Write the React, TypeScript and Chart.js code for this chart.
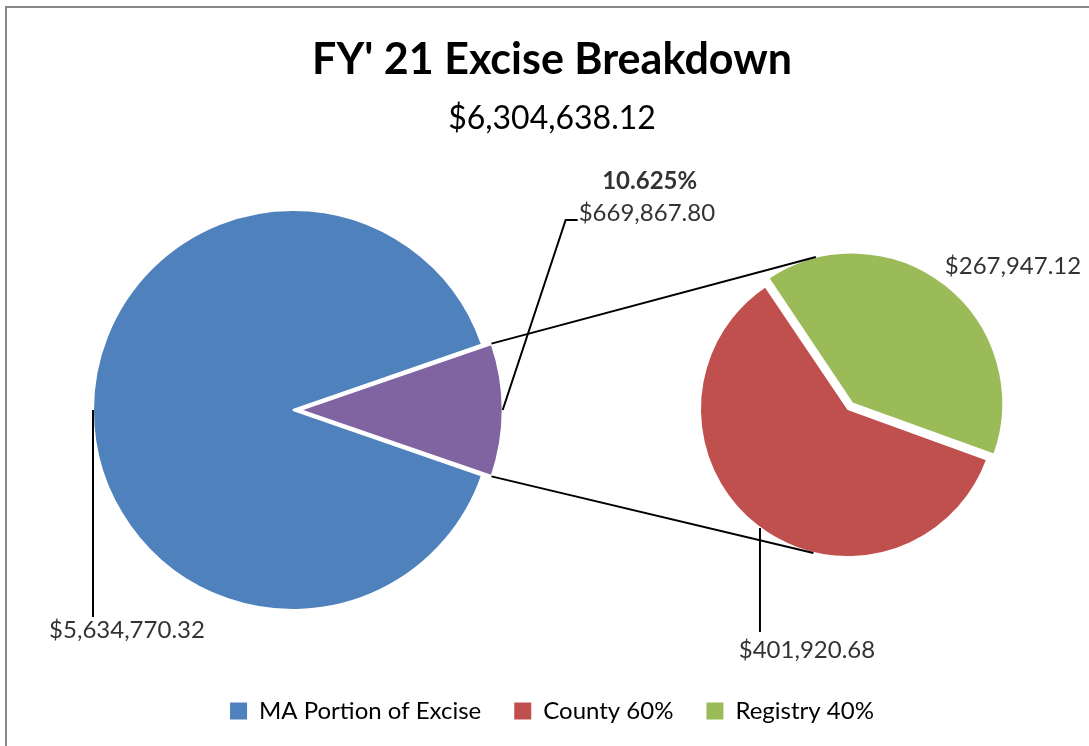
import React, { useEffect, useRef } from 'react';
import { Chart, registerables } from 'chart.js';

Chart.register(...registerables);

// ---------- data ----------
const chartTitle = "FY' 21 Excise Breakdown";
const mainLabels = ['MA Portion of Excise', 'Other'];
const mainValues = [5634770.32, 669867.8];
const subLabels = ['County 60%', 'Registry 40%'];
const subValues = [401920.68, 267947.12];
const legendLabels = ['MA Portion of Excise', 'County 60%', 'Registry 40%'];
const mainColors = ['#4F81BD', '#8064A2'];
const subColors = ['#C0504D', '#9BBB59'];
const legendColors = ['#4F81BD', '#C0504D', '#9BBB59'];

const W = 1089;
const H = 746;
const FONT = "Lato, 'Open Sans', 'DejaVu Sans', sans-serif";
const LABEL_COLOR = '#333333';

const fmtMoney = (v: number) =>
  '$' + v.toLocaleString('en-US', { minimumFractionDigits: 2, maximumFractionDigits: 2 });

const total = mainValues.reduce((a, b) => a + b, 0);
const otherShare = mainValues[1] / total;

// point on (possibly offset) arc at canvas angle
function arcPoint(arc: any, ang: number, extra = 0) {
  const off = (arc.options.offset || 0) / 4;
  const mid = (arc.startAngle + arc.endAngle) / 2;
  const circ = arc.endAngle - arc.startAngle;
  const r = arc.outerRadius + off * (1 - Math.sin(Math.min(Math.PI, circ))) + extra;
  return {
    x: arc.x + Math.cos(mid) * off + Math.cos(ang) * r,
    y: arc.y + Math.sin(mid) * off + Math.sin(ang) * r,
  };
}

function line(ctx: CanvasRenderingContext2D, pts: number[][]) {
  ctx.beginPath();
  ctx.moveTo(pts[0][0], pts[0][1]);
  for (let i = 1; i < pts.length; i++) ctx.lineTo(pts[i][0], pts[i][1]);
  ctx.stroke();
}

const deg = (d: number) => (d * Math.PI) / 180;

export default function App() {
  const refC = useRef<HTMLCanvasElement>(null);
  const refA = useRef<HTMLCanvasElement>(null);
  const refB = useRef<HTMLCanvasElement>(null);

  useEffect(() => {
    // ---- chart C: frame, title, subtitle, legend ----
    const framePlugin = {
      id: 'frame',
      beforeDraw(chart: any) {
        const ctx = chart.ctx;
        ctx.save();
        ctx.fillStyle = '#ffffff';
        ctx.fillRect(0, 0, W, H);
        ctx.strokeStyle = '#878787';
        ctx.lineWidth = 2;
        ctx.strokeRect(6, 7, 1200, 800);
        ctx.restore();
      },
    };
    const cC = new Chart(refC.current!, {
      type: 'pie',
      data: { labels: legendLabels, datasets: [{ data: [] }] },
      options: {
        responsive: false,
        animation: false,
        events: [],
        layout: { padding: { left: 15, right: 0, top: 0, bottom: 13 } },
        plugins: {
          tooltip: { enabled: false },
          title: {
            display: true,
            text: chartTitle,
            color: '#000000',
            font: { family: FONT, size: 43, weight: 'bold' },
            padding: { top: 34, bottom: 0 },
          },
          subtitle: {
            display: true,
            text: fmtMoney(total),
            color: '#000000',
            font: { family: FONT, size: 32, weight: 'normal' },
            padding: { top: 14, bottom: 0 },
          },
          legend: {
            display: true,
            position: 'bottom',
            align: 'center',
            labels: {
              boxWidth: 17,
              boxHeight: 17,
              padding: 33,
              color: '#1a1a1a',
              font: { family: FONT, size: 24 },
              generateLabels: () =>
                legendLabels.map((t, i) => ({
                  text: t,
                  fillStyle: legendColors[i],
                  strokeStyle: legendColors[i],
                  lineWidth: 0,
                  hidden: false,
                  index: i,
                })),
            },
          },
        },
      } as any,
      plugins: [framePlugin],
    });

    // ---- chart A: main pie ----
    const mainLabelPlugin = {
      id: 'mainLabels',
      afterDatasetsDraw(chart: any) {
        const ctx = chart.ctx as CanvasRenderingContext2D;
        const arcs = chart.getDatasetMeta(0).data as any[];
        const ma = arcs[0];
        const other = arcs[1];
        ctx.save();
        ctx.strokeStyle = '#000000';
        ctx.lineWidth = 2;
        // MA label
        const p = arcPoint(ma, Math.PI);
        line(ctx, [[p.x, p.y], [p.x, p.y + 207]]);
        ctx.fillStyle = LABEL_COLOR;
        ctx.font = `24px ${FONT}`;
        ctx.textAlign = 'center';
        ctx.textBaseline = 'middle';
        ctx.fillText(fmtMoney(mainValues[0]), p.x + 34, p.y + 220);
        // Other label
        const mid = (other.startAngle + other.endAngle) / 2;
        const q = arcPoint(other, mid);
        line(ctx, [[q.x, q.y], [q.x + 63, q.y - 190], [q.x + 75, q.y - 190]]);
        ctx.textAlign = 'left';
        ctx.fillText(fmtMoney(mainValues[1]), q.x + 76, q.y - 197);
        ctx.font = `bold 24px ${FONT}`;
        ctx.textAlign = 'center';
        ctx.fillText((otherShare * 100).toFixed(3) + '%', q.x + 147, q.y - 229);
        ctx.restore();
      },
    };
    const cA = new Chart(refA.current!, {
      type: 'pie',
      data: {
        labels: mainLabels,
        datasets: [
          {
            data: mainValues,
            backgroundColor: mainColors,
            borderColor: '#ffffff',
            borderWidth: 2,
            offset: [0, 28],
          },
        ],
      },
      options: {
        responsive: false,
        animation: false,
        events: [],
        radius: 200,
        rotation: 90 + otherShare * 180,
        layout: { padding: { left: 0, right: W - 2 * 293, top: 2 * 410 - H, bottom: 0 } },
        plugins: { legend: { display: false }, tooltip: { enabled: false }, title: { display: false } },
      } as any,
      plugins: [mainLabelPlugin],
    });

    // ---- chart B: secondary pie + connectors ----
    const subPlugin = {
      id: 'subLabels',
      afterDatasetsDraw(chart: any) {
        const ctx = chart.ctx as CanvasRenderingContext2D;
        const arcs = chart.getDatasetMeta(0).data as any[];
        const county = arcs[0];
        const registry = arcs[1];
        const other = (cA.getDatasetMeta(0).data as any[])[1];
        ctx.save();
        ctx.strokeStyle = '#000000';
        ctx.lineWidth = 2;
        // connectors
        const a1 = arcPoint(other, other.startAngle);
        const a2 = arcPoint(other, other.endAngle);
        const b1 = arcPoint(registry, deg(-104));
        const b2 = arcPoint(county, deg(103.5));
        line(ctx, [[a1.x, a1.y], [b1.x, b1.y]]);
        line(ctx, [[a2.x, a2.y], [b2.x, b2.y]]);
        // county label
        const c = arcPoint(county, deg(126.5));
        line(ctx, [[c.x, c.y], [c.x, c.y + 104]]);
        ctx.fillStyle = LABEL_COLOR;
        ctx.font = `24px ${FONT}`;
        ctx.textAlign = 'center';
        ctx.textBaseline = 'middle';
        ctx.fillText(fmtMoney(subValues[0]), c.x + 47, c.y + 122);
        // registry label
        ctx.fillText(fmtMoney(subValues[1]), county.x + 165, county.y - 143);
        ctx.restore();
      },
    };
    const cB = new Chart(refB.current!, {
      type: 'pie',
      data: {
        labels: subLabels,
        datasets: [
          {
            data: subValues,
            backgroundColor: subColors,
            borderColor: '#ffffff',
            borderWidth: 2,
            offset: [0, 28],
          },
        ],
      },
      options: {
        responsive: false,
        animation: false,
        events: [],
        radius: 148,
        rotation: 110,
        layout: { padding: { left: 2 * 848 - W, right: 0, top: 2 * 409 - H, bottom: 0 } },
        plugins: { legend: { display: false }, tooltip: { enabled: false }, title: { display: false } },
      } as any,
      plugins: [subPlugin],
    });

    return () => {
      cB.destroy();
      cA.destroy();
      cC.destroy();
    };
  }, []);

  const cs: React.CSSProperties = { position: 'absolute', left: 0, top: 0, width: W, height: H };
  return (
    <div
      style={{
        position: 'fixed',
        left: 0,
        top: 0,
        width: W,
        height: H,
        overflow: 'hidden',
        background: '#ffffff',
      }}
    >
      <canvas ref={refC} width={W} height={H} style={cs} />
      <canvas ref={refA} width={W} height={H} style={cs} />
      <canvas ref={refB} width={W} height={H} style={cs} />
    </div>
  );
}
